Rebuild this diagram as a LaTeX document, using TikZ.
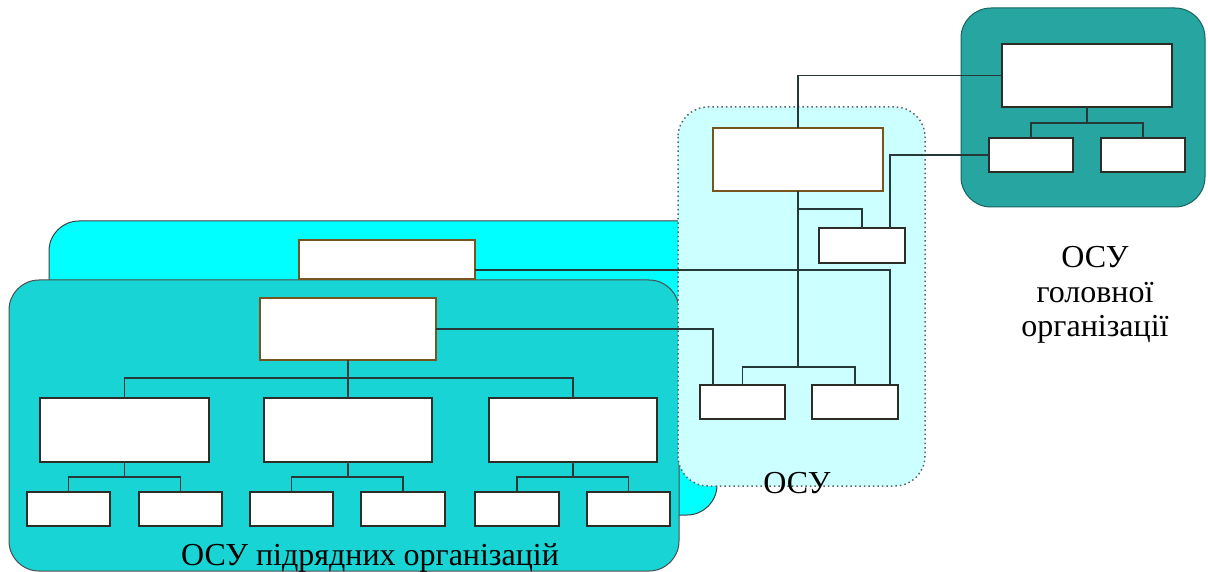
\documentclass[tikz,border=0pt]{standalone}
\usepackage{fontspec}
\setmainfont{Liberation Serif}
\definecolor{headteal}{RGB}{38,165,161}
\definecolor{frontteal}{RGB}{25,212,212}
\definecolor{backcyan}{RGB}{0,255,255}
\definecolor{palecyan}{RGB}{204,255,255}
\definecolor{boxedge}{RGB}{45,45,40}
\definecolor{warmedge}{RGB}{120,85,30}
\definecolor{linecol}{RGB}{38,56,56}
\definecolor{dotcol}{RGB}{90,100,100}
\begin{document}
\begin{tikzpicture}[x=1pt,y=-1pt,
  unitbox/.style={draw=boxedge, fill=white, line width=2pt, inner sep=0pt, outer sep=0pt},
  warmbox/.style={unitbox, draw=warmedge},
  conn/.style={draw=linecol, line width=1.8pt},
  panel/.style={draw=black!75, line width=1pt, rounded corners=30pt},
  caption/.style={font=\fontsize{32}{34}\selectfont, inner sep=0pt, anchor=base}
]
\useasboundingbox (0,0) rectangle (1208,572);

% organisational panels
\path[panel, fill=headteal, draw=headteal!60!black] (961,8) rectangle (1205,207);
\path[panel, fill=backcyan] (49,221) rectangle (717,515);
\path[panel, fill=frontteal, draw=black!70] (9,280) rectangle (679,571);
\path[rounded corners=30pt, fill=palecyan, draw=dotcol, line width=1.5pt,
      dash pattern=on 1.5pt off 3pt] (678,107) rectangle (925,486);

% head organisation
\node[unitbox, minimum width=170pt, minimum height=63pt] (h)  at (1087,75.5) {};
\node[unitbox, minimum width=84pt,  minimum height=34pt] (h1) at (1031,155) {};
\node[unitbox, minimum width=84pt,  minimum height=34pt] (h2) at (1143,155) {};

% middle system
\node[warmbox, minimum width=170pt, minimum height=63pt] (m)  at (798,159.5) {};
\node[unitbox, minimum width=86pt,  minimum height=35pt] (s)  at (862,245.5) {};
\node[unitbox, minimum width=85pt,  minimum height=34pt] (b1) at (742.5,402) {};
\node[unitbox, minimum width=86pt,  minimum height=34pt] (b2) at (855,402) {};

% subordinate organisations
\node[warmbox, minimum width=176pt, minimum height=39pt] (c)  at (387,259.5) {};
\node[warmbox, minimum width=176pt, minimum height=62pt] (t)  at (348,329) {};
\node[unitbox, minimum width=169pt, minimum height=64pt] (d1) at (124.5,430) {};
\node[unitbox, minimum width=168pt, minimum height=64pt] (d2) at (348,430) {};
\node[unitbox, minimum width=168pt, minimum height=64pt] (d3) at (573,430) {};
\node[unitbox, minimum width=83pt, minimum height=34pt] (l1) at (68.5,509) {};
\node[unitbox, minimum width=83pt, minimum height=34pt] (l2) at (180.5,509) {};
\node[unitbox, minimum width=83pt, minimum height=34pt] (l3) at (291.5,509) {};
\node[unitbox, minimum width=84pt, minimum height=34pt] (l4) at (403,509) {};
\node[unitbox, minimum width=84pt, minimum height=34pt] (l5) at (517,509) {};
\node[unitbox, minimum width=83pt, minimum height=34pt] (l6) at (628.5,509) {};

% bus points
\coordinate (hbus) at (1087,123);
\coordinate (obus) at (798,367);
\coordinate (tbus) at (348,378);
\coordinate (bus1) at (124.5,477);
\coordinate (bus2) at (348,477);
\coordinate (bus3) at (573,477);

% connectors
\draw[conn] (h.south) -- (hbus);
\draw[conn] (h1.north) |- (hbus) -| (h2.north);
\draw[conn] (m.north) |- (h.west);
\draw[conn] (h1.west) -| ([xshift=-15pt]s.north east);
\draw[conn] (m.south) -- ++(0,18) -| (s.north);
\draw[conn] (m.south) -- (obus);
\draw[conn] (b1.north) |- (obus) -| (b2.north);
\draw[conn] ([yshift=-10.5pt]c.east) -| ([xshift=-8pt]b2.north east);
\draw[conn] (t.east) -| ([xshift=13pt]b1.north west);
\draw[conn] (t.south) -- (tbus);
\draw[conn] (d1.north) |- (tbus) -| (d3.north);
\draw[conn] (d2.north) -- (tbus);
\draw[conn] (d1.south) -- (bus1);
\draw[conn] (l1.north) |- (bus1) -| (l2.north);
\draw[conn] (d2.south) -- (bus2);
\draw[conn] (l3.north) |- (bus2) -| (l4.north);
\draw[conn] (d3.south) -- (bus3);
\draw[conn] (l5.north) |- (bus3) -| (l6.north);

% captions
\node[caption] (capsub)  at (370,565) {ОСУ підрядних організацій};
\node[caption] (capmid)  at (797,493) {ОСУ};
\node[caption] (caphead1) at (1095,268) {ОСУ};
\node[caption] (caphead2) at (1095,302) {головної};
\node[caption] (caphead3) at (1095,336) {організації};
\end{tikzpicture}
\end{document}
